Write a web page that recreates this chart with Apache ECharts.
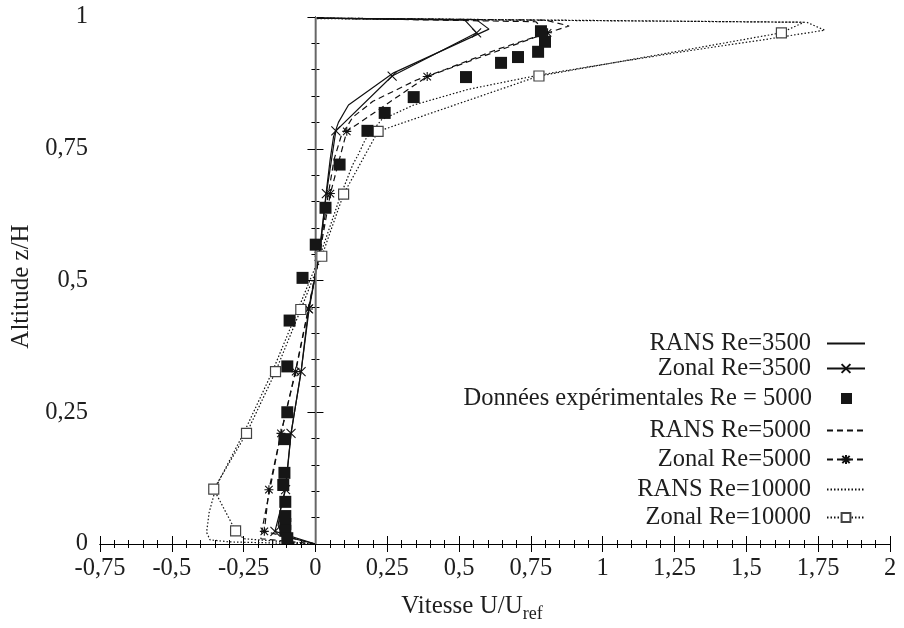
<!DOCTYPE html>
<html>
<head>
<meta charset="utf-8">
<script src="https://cdn.jsdelivr.net/npm/echarts@6/dist/echarts.min.js"></script>
<style>html,body{margin:0;padding:0;background:#fff}#c{width:904px;height:628px}</style>
</head>
<body>
<div id="c"></div>
<script>
// ---- data: [U/Uref, z/H] ----
const xTicks = [-0.75, -0.5, -0.25, 0, 0.25, 0.5, 0.75, 1, 1.25, 1.5, 1.75, 2];
const yTicks = [0, 0.25, 0.5, 0.75, 1];

const seriesNames = ['RANS Re=3500', 'Zonal Re=3500', 'Données expérimentales Re = 5000',
  'RANS Re=5000', 'Zonal Re=5000', 'RANS Re=10000', 'Zonal Re=10000'];

const rans3500 = [[0,0],[-0.11,0.015],[-0.13,0.035],[-0.12,0.07],[-0.105,0.104],[-0.085,0.21],[-0.05,0.327],
  [-0.022,0.446],[0.012,0.546],[0.037,0.665],[0.051,0.729],[0.063,0.773],[0.08,0.80],[0.115,0.833],
  [0.272,0.894],[0.604,0.977],[0.56,0.995],[0,0.998]];

const zonal3500Bottom = [[0,0]];
const zonal3500 = [[-0.141,0.024],[-0.104,0.103],[-0.085,0.210],[-0.05,0.327],[-0.024,0.446],[0.013,0.546],
  [0.038,0.665],[0.071,0.784],[0.267,0.888],[0.561,0.970]];
const zonal3500Top = [[0.52,0.994],[0,0.998]];

const experimental = [[0.785,0.973],[0.799,0.953],[0.775,0.934],[0.705,0.924],[0.646,0.913],[0.524,0.886],
  [0.342,0.848],[0.241,0.818],[0.181,0.784],[0.084,0.720],[0.035,0.638],[0.001,0.568],[-0.045,0.505],
  [-0.090,0.424],[-0.098,0.337],[-0.098,0.250],[-0.108,0.199],[-0.108,0.135],[-0.112,0.112],[-0.105,0.080],
  [-0.105,0.053],[-0.105,0.038],[-0.105,0.025],[-0.098,0.011]];

const rans5000 = [[0,0],[-0.19,0.01],[-0.185,0.03],[-0.16,0.1],[-0.12,0.21],[-0.07,0.327],[-0.025,0.446],
  [0.012,0.546],[0.045,0.665],[0.065,0.73],[0.09,0.775],[0.13,0.81],[0.2,0.84],[0.35,0.88],[0.45,0.9],
  [0.64,0.94],[0.883,0.983],[0.8,0.994],[0,0.998]];

const zonal5000Bottom = [[0,0]];
const zonal5000 = [[-0.178,0.024],[-0.162,0.103],[-0.12,0.210],[-0.069,0.327],[-0.024,0.446],[0.013,0.546],
  [0.052,0.665],[0.109,0.783],[0.389,0.887],[0.808,0.970]];
const zonal5000Top = [[0.767,0.991],[0,0.998]];

const rans10000 = [[0,0],[-0.3,0.004],[-0.367,0.008],[-0.379,0.022],[-0.37,0.06],[-0.345,0.11],[-0.25,0.21],
  [-0.15,0.327],[-0.06,0.446],[0.015,0.546],[0.09,0.665],[0.13,0.72],[0.15,0.74],[0.173,0.767],[0.23,0.805],
  [0.342,0.833],[0.534,0.863],[0.78,0.89],[1.058,0.915],[1.3,0.936],[1.55,0.956],[1.773,0.975],[1.71,0.99],
  [0,0.997]];

const zonal10000Bottom = [[0,0],[-0.25,0.01]];
const zonal10000 = [[-0.278,0.025],[-0.354,0.104],[-0.24,0.210],[-0.139,0.327],[-0.051,0.445],[0.022,0.546],
  [0.098,0.664],[0.218,0.783],[0.778,0.888],[1.622,0.970]];
const zonal10000Top = [[1.70,0.99],[0,0.998]];

// ---- chart ----
const FONT = 'Liberation Serif';
const INK = '#111';
const TXT = '#1e1e1e';
const fmt = v => String(v).replace('.', ',');
const noSym = arr => arr.map(p => ({ value: p, symbol: 'none' }));

const crossPath = 'path://M0 0L10 10M10 0L0 10';
const starPath = 'path://M0 0L10 10M10 0L0 10M5 -1L5 11M-1 5L11 5';

function lineSeries(name, data, type, extra) {
  return Object.assign({
    name, type: 'line', data, showSymbol: false, symbol: 'circle', symbolSize: 0,
    lineStyle: { color: INK, width: 1.2, type },
    itemStyle: { color: INK },
    animation: false, z: 3
  }, extra || {});
}
function zonalSeries(name, bottom, pts, top, type, symbol, size, itemStyle) {
  return {
    name, type: 'line',
    data: noSym(bottom).concat(pts).concat(noSym(top)),
    symbol, symbolSize: size, showSymbol: true,
    lineStyle: { color: INK, width: 1.2, type },
    itemStyle, animation: false, z: 4
  };
}

const axisCommon = {
  type: 'value',
  axisLine: { show: true, lineStyle: { color: '#000', width: 1.2 } },
  axisTick: { show: true, inside: true, length: 8, lineStyle: { color: '#000', width: 1 } },
  minorTick: { show: true, splitNumber: 5, length: 4, lineStyle: { color: '#000', width: 1 } },
  splitLine: { show: false },
  minorSplitLine: { show: false }
};

const xBase = Object.assign({}, axisCommon, { min: xTicks[0], max: xTicks[xTicks.length - 1], interval: 0.25 });
const yBase = Object.assign({}, axisCommon, { min: yTicks[0], max: yTicks[yTicks.length - 1], interval: 0.25 });

const legendTops = [331, 356, 386, 418, 447, 477, 505];
const legends = seriesNames.map((n, i) => {
  const isExp = i === 2;
  const item = { name: n };
  if (i === 0 || i === 3 || i === 5) item.itemStyle = { opacity: 0 };
  return {
    data: [item],
    orient: 'vertical', align: 'right',
    right: isExp ? 52 : 38, top: legendTops[i],
    padding: 0,
    itemWidth: isExp ? 11 : 38, itemHeight: 11,
    selectedMode: false,
    textStyle: { fontFamily: FONT, fontSize: 24.5, color: TXT, padding: [0, isExp ? 24 : 11, 0, 0] }
  };
});

const option = {
  backgroundColor: '#fff',
  animation: false,
  grid: { left: 100, right: 14, top: 17, bottom: 83, containLabel: false },
  xAxis: [
    Object.assign({}, xBase, {
      position: 'bottom',
      name: '{a|Vitesse U/U}{s|ref}', nameLocation: 'middle', nameGap: 46,
      nameTextStyle: { padding: [0, 46, 0, 0], rich: {
        a: { fontFamily: FONT, fontSize: 25, color: TXT },
        s: { fontFamily: FONT, fontSize: 18, color: TXT, padding: [15, 0, 0, 0] } } },
      axisLabel: { formatter: fmt, fontFamily: FONT, fontSize: 24.5, color: TXT, margin: 12 }
    }),
    Object.assign({}, xBase, { position: 'top', axisLabel: { show: false } })
  ],
  yAxis: [
    Object.assign({}, yBase, {
      position: 'left',
      name: 'Altitude z/H', nameLocation: 'middle', nameGap: 60, nameRotate: 90,
      nameTextStyle: { fontFamily: FONT, fontSize: 25, color: TXT, padding: [0, 12, 0, 0] },
      axisLabel: { formatter: fmt, fontFamily: FONT, fontSize: 24.5, color: TXT, margin: 12 }
    }),
    Object.assign({}, yBase, { position: 'right', axisLabel: { show: false } })
  ],
  legend: legends,
  series: [
    lineSeries(seriesNames[0], rans3500, 'solid', {
      markLine: { silent: true, symbol: 'none', label: { show: false },
        lineStyle: { color: '#888', type: 'solid', width: 1.5 }, data: [{ xAxis: 0 }] }
    }),
    zonalSeries(seriesNames[1], zonal3500Bottom, zonal3500, zonal3500Top, 'solid', crossPath, 9,
      { color: 'none', borderColor: INK, borderWidth: 1.1 }),
    { name: seriesNames[2], type: 'scatter', data: experimental, symbol: 'rect', symbolSize: 12,
      itemStyle: { color: '#161616', opacity: 1 }, z: 5, animation: false },
    lineSeries(seriesNames[3], rans5000, [6, 4]),
    zonalSeries(seriesNames[4], zonal5000Bottom, zonal5000, zonal5000Top, [6, 4], starPath, 9,
      { color: 'none', borderColor: INK, borderWidth: 1.1 }),
    lineSeries(seriesNames[5], rans10000, [1.5, 2]),
    zonalSeries(seriesNames[6], zonal10000Bottom, zonal10000, zonal10000Top, [1.5, 2], 'rect', 10,
      { color: '#fff', borderColor: '#444', borderWidth: 1.2 })
  ]
};

const chart = echarts.init(document.getElementById('c'), null, { renderer: 'canvas' });
chart.setOption(option);
</script>
</body>
</html>
